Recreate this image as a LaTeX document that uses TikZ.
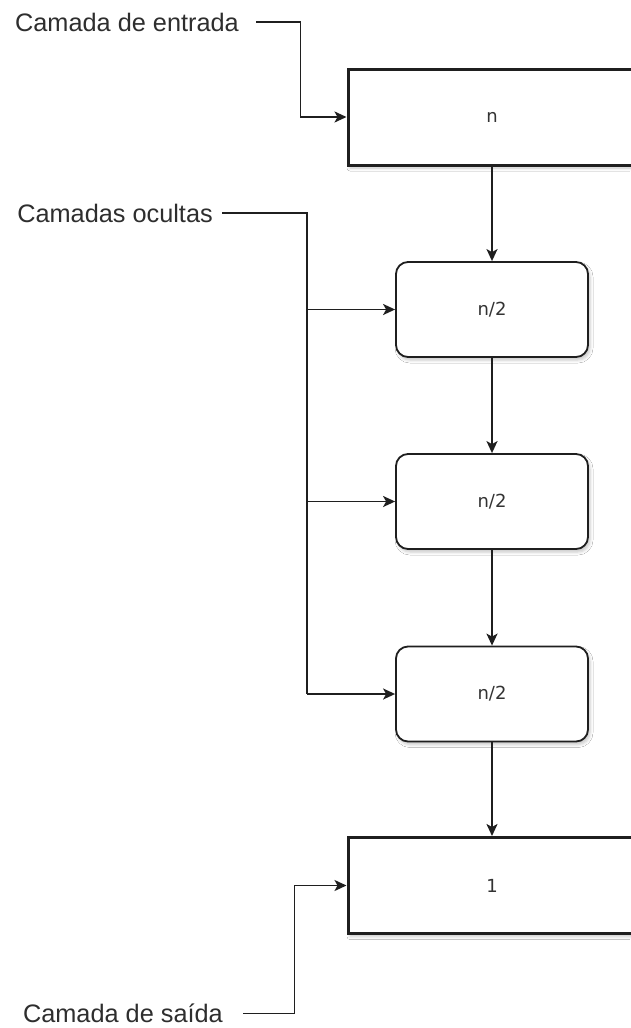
\documentclass[tikz,border=0pt]{standalone}
\usepackage{fontspec}
\setmainfont{Liberation Sans}
\newfontfamily\boxfont{DejaVu Sans}
\usetikzlibrary{arrows.meta,shadows.blur}

\tikzset{
  shade/.style={blur shadow={shadow xshift=2pt, shadow yshift=-3pt,
      shadow blur radius=3pt, shadow opacity=22}},
  layerbox/.style={draw=black!88, line width=3pt, fill=white, shade,
      minimum width=288pt, minimum height=96pt, inner sep=0pt,
      font=\boxfont\fontsize{18pt}{20pt}\selectfont, text=black!80},
  hiddenbox/.style={draw=black!88, line width=1.8pt, fill=white, shade,
      rounded corners=12pt, minimum width=192pt, minimum height=95pt,
      inner sep=0pt, font=\boxfont\fontsize{18pt}{20pt}\selectfont,
      text=black!80},
  lbl/.style={inner sep=0pt, text=black!82,
      font=\fontsize{25.3pt}{28pt}\selectfont},
  conn/.style={draw=black!88, line width=1.8pt},
  arr/.style={conn, -{Stealth[length=12pt,width=11pt,inset=3pt]}},
}

\begin{document}
\begin{tikzpicture}[x=1pt, y=-1pt]
  \fill[white] (0,0) rectangle (630,1028);
  \useasboundingbox (0,0) rectangle (630,1028);

  % layers
  \node[layerbox]  (inp) at (492,117)   {n};
  \node[hiddenbox] (h1)  at (492,309.5) {n/2};
  \node[hiddenbox] (h2)  at (492,501.5) {n/2};
  \node[hiddenbox] (h3)  at (492,694)   {n/2};
  \node[layerbox]  (out) at (492,885.5) {1};

  % labels
  \node[lbl, anchor=east] (lin)  at (239,22)     {Camada de entrada};
  \node[lbl, anchor=east] (lhid) at (213,213)    {Camadas ocultas};
  \node[lbl, anchor=east] (lout) at (223,1013.5) {Camada de saída};

  % flow between layers
  \draw[arr] (inp.south) -- (h1.north);
  \draw[arr] (h1.south) -- (h2.north);
  \draw[arr] (h2.south) -- (h3.north);
  \draw[arr] (h3.south) -- (out.north);

  % input label pointer
  \draw[arr] ([xshift=17pt]lin.east) -| ([xshift=-46pt]inp.west) -- (inp.west);

  % hidden label bus
  \coordinate (bus) at ([xshift=-88pt]h3.west);
  \draw[conn] ([xshift=9pt]lhid.east) -| (bus);
  \draw[arr] (bus |- h1.west) -- (h1.west);
  \draw[arr] (bus |- h2.west) -- (h2.west);
  \draw[arr] (bus) -- (h3.west);

  % output label pointer
  \draw[arr] ([xshift=20pt]lout.east) -| ([xshift=-52pt]out.west) -- (out.west);
\end{tikzpicture}
\end{document}
